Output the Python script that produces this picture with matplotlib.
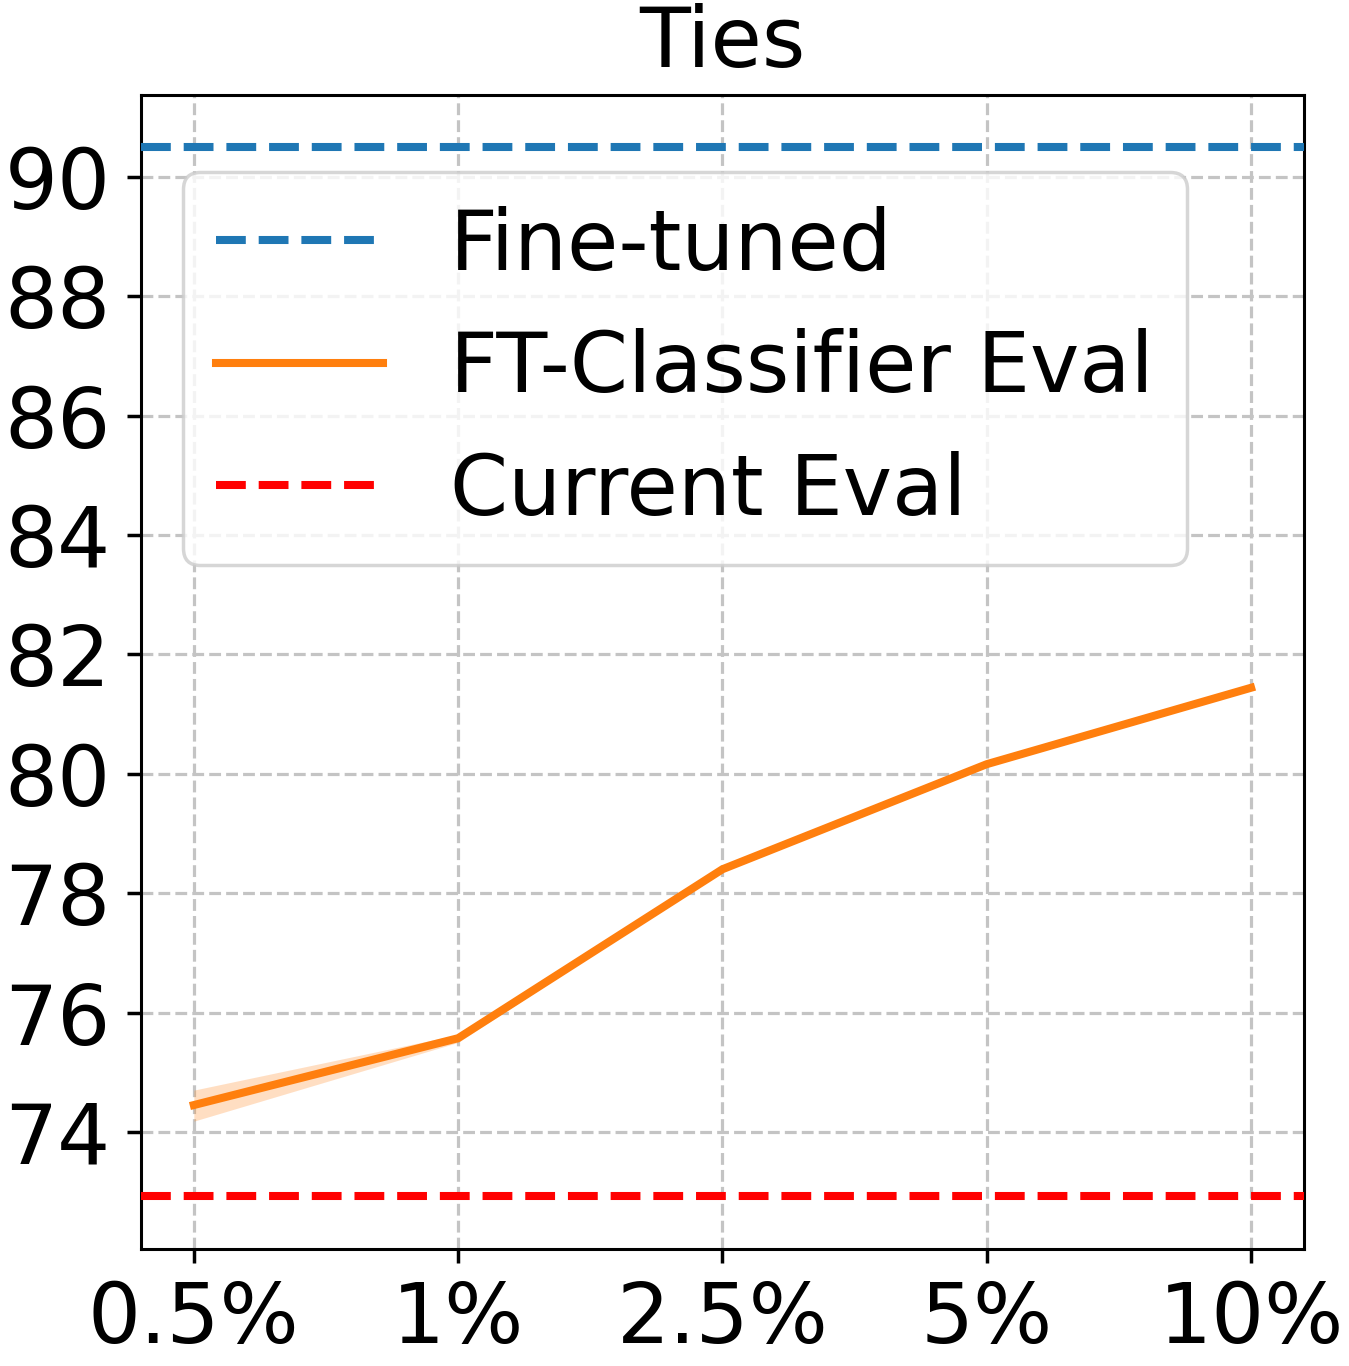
import matplotlib
matplotlib.use("Agg")
import matplotlib.pyplot as plt
import numpy as np

categories = ["0.5%", "1%", "2.5%", "5%", "10%"]
ft_classifier = [74.45, 75.57, 78.40, 80.16, 81.44]
ft_lower = [74.18, 75.50, 78.38, 80.14, 81.42]
ft_upper = [74.70, 75.63, 78.42, 80.18, 81.46]
fine_tuned = 90.50
current_eval = 72.93
yticks = [74, 76, 78, 80, 82, 84, 86, 88, 90]

FS = 60

fig = plt.figure(figsize=(13.49, 13.66), dpi=100)
ax = fig.add_axes([0.1045, 0.0857, 0.9666 - 0.1045, 0.9305 - 0.0857])

x = np.arange(len(categories))
ax.axhline(fine_tuned, color="#1f77b4", linestyle="--", lw=5.8, label="Fine-tuned", zorder=3)
ax.plot(x, ft_classifier, color="#ff7f0e", lw=5.8, label="FT-Classifier Eval", zorder=4)
ax.fill_between(x, ft_lower, ft_upper, color="#ff7f0e", alpha=0.25, lw=0, zorder=3)
ax.axhline(current_eval, color="red", linestyle="--", lw=5.8, label="Current Eval", zorder=3)

ax.set_xticks(x)
ax.set_xticklabels(categories)
ax.set_yticks(yticks)
ax.set_xlim(-0.2, 4.2)
ax.set_ylim(72.04, 91.37)
ax.grid(True, linestyle="--", color="#c4c4c4", lw=2.3, zorder=0)
ax.set_axisbelow(True)

ax.tick_params(axis="both", labelsize=FS, length=10, width=2.5, pad=12)
for s in ax.spines.values():
    s.set_linewidth(2.2)

ax.set_title("Ties", fontsize=FS, pad=20)

leg = ax.legend(loc="upper left", bbox_to_anchor=(0.0361, 0.9333), borderaxespad=0,
                fontsize=FS, framealpha=0.8)
leg.get_frame().set_linewidth(2.5)

fig.savefig("out.png", dpi=100)
